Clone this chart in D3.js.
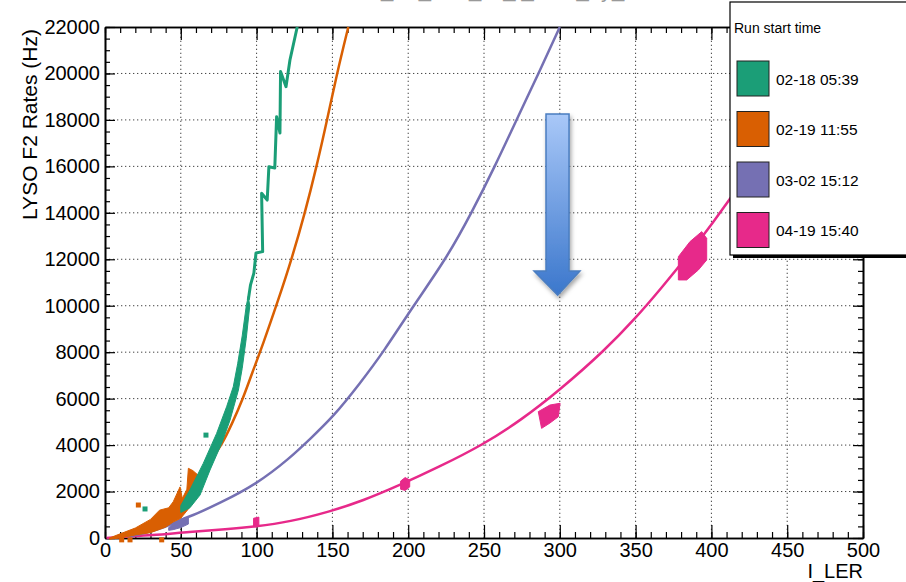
<!DOCTYPE html>
<html>
<head>
<meta charset="utf-8">
<script src="https://cdn.jsdelivr.net/npm/d3@7"></script>
<style>
  body { margin: 0; background: #fff; }
  svg { display: block; font-family: "Liberation Sans", Arial, Helvetica, sans-serif; }
</style>
</head>
<body>
<svg></svg>
<script>
// run labels and colours (legend order)
const runs = ["02-18 05:39", "02-19 11:55", "03-02 15:12", "04-19 15:40"];
const runColors = ["#1b9e77", "#d95f02", "#7570b3", "#e7298a"];

const xTicks = [0, 50, 100, 150, 200, 250, 300, 350, 400, 450, 500];
const yTicks = [0, 2000, 4000, 6000, 8000, 10000, 12000, 14000, 16000, 18000, 20000, 22000];

// [I_LER, rate] along each run
const greenLine = [[94.5, 10250], [96, 10900], [98.2, 11400], [99.6, 12270], [104, 12330], [103.3, 14840],
  [107, 14550], [108.1, 15980], [112, 15930], [113.2, 18140], [115.4, 17440], [115.8, 20080],
  [119.4, 19430], [122, 20580], [126.8, 22000]];
const orangeLine = [[60.6, 2600], [68, 3200], [77, 4000], [84, 4950], [91, 6000], [97, 7100], [104, 8300],
  [114.3, 10250], [123.1, 12000], [131.9, 14000], [139.6, 16000], [146.5, 18000], [153, 20000], [160.5, 22000]];
const purpleLine = [[15, 60], [25, 180], [40.7, 490], [49.5, 775], [60, 1030], [75, 1480], [99.6, 2300],
  [122, 3440], [135, 4250], [150.6, 5220], [168.2, 6660], [183.6, 8000], [203.4, 10000],
  [224.9, 12000], [241.8, 14000], [257.2, 16000], [271.4, 18000], [286, 20000], [300, 22000]];
const magentaLine = [[1, 0], [12, 60], [30, 110], [56, 270], [80, 380], [99, 490], [122, 700], [148, 1130],
  [170, 1600], [194.6, 2280], [220, 3050], [249, 4000], [275, 5100], [300, 6370], [330, 8100], [350, 9470],
  [366, 10680], [390, 12600], [412, 14550], [430, 16300]];

// dense clusters of points, as outlines [I_LER, rate]
const greenCluster = [[50, 1400], [56, 2070], [64.8, 3210], [73.6, 4500], [80.2, 5650], [84.6, 6510], [87.5, 7500],
  [90.5, 8700], [93.2, 10000], [94.5, 10400], [95.5, 10000], [93.2, 8600], [90.5, 7300], [88, 6370], [82.5, 5080],
  [77, 4080], [69.3, 2930], [62.7, 1850], [56, 1300], [50, 1100]];
const orangeCluster = [[3, 0], [10, 180], [20, 430], [30, 800], [36, 1200], [42, 1300], [45, 1560], [49.5, 2200],
  [51, 1700], [54, 2100], [55, 3000], [58, 2900], [61.5, 2700], [62, 2300], [60, 1700], [55, 1250], [50, 850],
  [45, 690], [40, 470], [30, 230], [20, 130], [10, 0], [3, -50]];
const purpleCluster = [[42, 450], [46, 650], [50, 820], [55, 880], [55, 600], [50, 450], [45, 360], [42, 330]];
const magentaClusters = [
  [[98, 480], [98, 850], [101.5, 900], [101.5, 500]],
  [[195, 2100], [195, 2450], [198, 2600], [201, 2500], [201, 2200], [198, 2050]],
  [[285.8, 5440], [288, 4720], [293.5, 4950], [299, 5220], [300.2, 5800], [293.5, 5725]],
  [[393.6, 13190], [396.9, 12900], [396.9, 11970], [391.4, 11540], [383.7, 11110], [378.2, 11110],
    [378.2, 12110], [385.9, 12760]]
];

// isolated points
const strayPoints = [
  { run: 1, I: 22, rate: 1420 }, { run: 1, I: 11, rate: -80 }, { run: 1, I: 16.5, rate: -80 },
  { run: 1, I: 37.4, rate: -80 }, { run: 0, I: 26.4, rate: 1250 }, { run: 0, I: 66.6, rate: 4430 }
];

// annotation arrow, in data units
const arrowPts = [[290.9, 18250], [306.1, 18250], [306.1, 11490], [313.3, 11490], [298.6, 10460],
  [283, 11490], [290.9, 11490]];

const width = 906;
const height = 582;
const margin = { left: 105, right: 43, top: 27, bottom: 44 };

const svg = d3.select("svg").attr("width", width).attr("height", height);
const g = svg.append("g");

const x = d3.scaleLinear().domain([0, 500]).range([margin.left, width - margin.right]);
const y = d3.scaleLinear().domain([0, 22000]).range([height - margin.bottom, margin.top]);

// title (cut off at top, as in the original)
svg.append("text")
  .attr("x", 490).attr("y", -3)
  .attr("text-anchor", "middle")
  .attr("font-size", 22)
  .attr("fill", "#999")
  .text("LYSO_F2_rate_vs_I_LER_by_run");

// grid
g.append("g").selectAll("line").data(xTicks.slice(1, -1)).join("line")
  .attr("x1", d => x(d)).attr("x2", d => x(d))
  .attr("y1", y(0)).attr("y2", y(22000))
  .attr("stroke", "#444").attr("stroke-width", 1).attr("stroke-dasharray", "1.3,2.7");
g.append("g").selectAll("line").data(yTicks.slice(1, -1)).join("line")
  .attr("x1", x(0)).attr("x2", x(500))
  .attr("y1", d => y(d)).attr("y2", d => y(d))
  .attr("stroke", "#444").attr("stroke-width", 1).attr("stroke-dasharray", "1.3,2.7");

// axes, ROOT style: ticks inside the frame
const minorX = d3.range(0, 501, 10);
const minorY = d3.range(0, 22001, 500);
function styleAxis(sel) {
  sel.selectAll("path").attr("stroke", "#000").attr("stroke-width", 1.6);
  sel.selectAll("line").attr("stroke", "#000").attr("stroke-width", 1.2);
  sel.selectAll("text").attr("font-size", 20).attr("fill", "#000")
    .attr("font-family", "'Liberation Sans', Arial, sans-serif");
}

g.append("g").attr("transform", `translate(0,${y(0)})`)
  .call(d3.axisBottom(x).tickValues(minorX).tickSizeInner(-6).tickSizeOuter(0).tickFormat(""))
  .call(styleAxis);
g.append("g").attr("transform", `translate(0,${y(0)})`)
  .call(d3.axisBottom(x).tickValues(xTicks).tickSizeInner(-13).tickSizeOuter(0).tickPadding(5).tickFormat(d3.format("d")))
  .call(styleAxis);

g.append("g").attr("transform", `translate(0,${y(22000)})`)
  .call(d3.axisTop(x).tickValues(minorX).tickSizeInner(-6).tickSizeOuter(0).tickFormat(""))
  .call(styleAxis);
g.append("g").attr("transform", `translate(0,${y(22000)})`)
  .call(d3.axisTop(x).tickValues(xTicks).tickSizeInner(-13).tickSizeOuter(0).tickFormat(""))
  .call(styleAxis);

g.append("g").attr("transform", `translate(${x(0)},0)`)
  .call(d3.axisLeft(y).tickValues(minorY).tickSizeInner(-5).tickSizeOuter(0).tickFormat(""))
  .call(styleAxis);
g.append("g").attr("transform", `translate(${x(0)},0)`)
  .call(d3.axisLeft(y).tickValues(yTicks).tickSizeInner(-10).tickSizeOuter(0).tickPadding(5).tickFormat(d3.format("d")))
  .call(styleAxis);

g.append("g").attr("transform", `translate(${x(500)},0)`)
  .call(d3.axisRight(y).tickValues(minorY).tickSizeInner(-5).tickSizeOuter(0).tickFormat(""))
  .call(styleAxis);
g.append("g").attr("transform", `translate(${x(500)},0)`)
  .call(d3.axisRight(y).tickValues(yTicks).tickSizeInner(-10).tickSizeOuter(0).tickFormat(""))
  .call(styleAxis);

// axis titles
g.append("text")
  .attr("transform", `translate(37,${y(22000) + 2}) rotate(-90)`)
  .attr("text-anchor", "end")
  .attr("font-size", 21)
  .text("LYSO F2 Rates (Hz)");
g.append("text")
  .attr("x", x(500)).attr("y", 578)
  .attr("text-anchor", "end")
  .attr("font-size", 20)
  .text("I_LER");

// data
const line = d3.line().x(d => x(d[0])).y(d => y(d[1]));
const smooth = d3.line().x(d => x(d[0])).y(d => y(d[1])).curve(d3.curveBasis);
const area = d3.line().x(d => x(d[0])).y(d => y(d[1])).curve(d3.curveLinearClosed);

const series = [
  { color: runColors[0], line: greenLine, clusters: [greenCluster], w: 3, gen: line },
  { color: runColors[1], line: orangeLine, clusters: [orangeCluster], w: 2.5, gen: smooth },
  { color: runColors[2], line: purpleLine, clusters: [purpleCluster], w: 2.5, gen: smooth },
  { color: runColors[3], line: magentaLine, clusters: magentaClusters, w: 2.5, gen: smooth }
];

// draw in reverse so green ends on top like the original
series.slice().reverse().forEach(s => {
  g.append("path")
    .datum(s.line)
    .attr("fill", "none")
    .attr("stroke", s.color)
    .attr("stroke-width", s.w)
    .attr("stroke-linejoin", "round")
    .attr("d", s.gen);
  s.clusters.forEach(c => {
    g.append("path")
      .datum(c)
      .attr("fill", s.color)
      .attr("stroke", s.color)
      .attr("stroke-width", 1)
      .attr("stroke-linejoin", "round")
      .attr("d", area);
  });
});

g.append("g").selectAll("rect").data(strayPoints).join("rect")
  .attr("x", d => x(d.I) - 2.5).attr("y", d => y(d.rate) - 2.5)
  .attr("width", 5).attr("height", 5)
  .attr("fill", d => runColors[d.run]);

// arrow
const defs = svg.append("defs");
const grad = defs.append("linearGradient").attr("id", "arrowGrad")
  .attr("x1", 0).attr("y1", 0).attr("x2", 0).attr("y2", 1);
grad.append("stop").attr("offset", "0%").attr("stop-color", "#a9c8f8");
grad.append("stop").attr("offset", "100%").attr("stop-color", "#3b77cc");
const shadow = defs.append("filter").attr("id", "arrowShadow")
  .attr("x", "-50%").attr("y", "-20%").attr("width", "200%").attr("height", "140%");
shadow.append("feDropShadow").attr("dx", 1.5).attr("dy", 3).attr("stdDeviation", 2)
  .attr("flood-color", "#000").attr("flood-opacity", 0.35);

g.append("path")
  .datum(arrowPts)
  .attr("fill", "url(#arrowGrad)")
  .attr("stroke", "#4a7dc0")
  .attr("stroke-width", 1.5)
  .attr("filter", "url(#arrowShadow)")
  .attr("d", area);

// legend
const lg = svg.append("g").attr("transform", "translate(730,2)");
lg.append("rect").attr("x", 3).attr("y", 3).attr("width", 200).attr("height", 253).attr("fill", "#000");
lg.append("rect").attr("x", 0).attr("y", 0).attr("width", 200).attr("height", 253)
  .attr("fill", "#fff").attr("stroke", "#000").attr("stroke-width", 1.2);
lg.append("text").attr("x", 4).attr("y", 31).attr("font-size", 14).text("Run start time");

const entry = lg.selectAll("g.entry").data(runs).join("g")
  .attr("class", "entry")
  .attr("transform", (d, i) => `translate(0,${59 + i * 50.5})`);
entry.append("rect")
  .attr("x", 7).attr("y", 0).attr("width", 32).attr("height", 35)
  .attr("fill", (d, i) => runColors[i])
  .attr("stroke", "#222").attr("stroke-width", 1);
entry.append("text")
  .attr("x", 46).attr("y", 23.5)
  .attr("font-size", 15.5)
  .text(d => d);
</script>
</body>
</html>
